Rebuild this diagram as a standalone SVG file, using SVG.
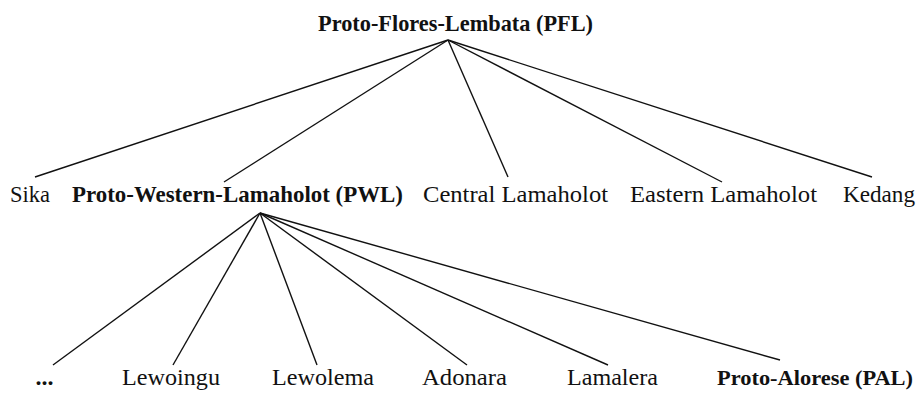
<svg xmlns="http://www.w3.org/2000/svg" width="922" height="394" viewBox="0 0 922 394">
<style>
text{font-family:"Liberation Serif","DejaVu Serif",serif;font-size:24px;fill:#111;text-anchor:middle}
.b{font-weight:bold}
.edge{stroke:#111;stroke-width:1.4;fill:none}
</style>
<rect width="922" height="394" fill="#fff"/>
<g id="connectors">
<line class="edge" x1="448" y1="40" x2="35" y2="177"/>
<line class="edge" x1="448" y1="40" x2="224" y2="182"/>
<line class="edge" x1="448" y1="40" x2="508" y2="177"/>
<line class="edge" x1="448" y1="40" x2="722" y2="182"/>
<line class="edge" x1="448" y1="40" x2="872" y2="177"/>
<line class="edge" x1="260" y1="213" x2="53" y2="365"/>
<line class="edge" x1="260" y1="213" x2="173" y2="365"/>
<line class="edge" x1="260" y1="213" x2="317" y2="365"/>
<line class="edge" x1="260" y1="213" x2="467" y2="365"/>
<line class="edge" x1="260" y1="213" x2="608" y2="365"/>
<line class="edge" x1="260" y1="213" x2="780" y2="360"/>
</g>
<g id="pfl"><text class="b" x="455.5" y="31" textLength="275" lengthAdjust="spacingAndGlyphs">Proto-Flores-Lembata (PFL)</text></g>
<g id="sika"><text x="30" y="202" textLength="40" lengthAdjust="spacingAndGlyphs">Sika</text></g>
<g id="pwl"><text class="b" x="237.5" y="202" textLength="331" lengthAdjust="spacingAndGlyphs">Proto-Western-Lamaholot (PWL)</text></g>
<g id="central"><text x="515.5" y="202" textLength="185" lengthAdjust="spacingAndGlyphs">Central Lamaholot</text></g>
<g id="eastern"><text x="723.5" y="202" textLength="187" lengthAdjust="spacingAndGlyphs">Eastern Lamaholot</text></g>
<g id="kedang"><text x="879" y="202" textLength="72" lengthAdjust="spacingAndGlyphs">Kedang</text></g>
<g id="dots"><text class="b" x="44.5" y="385">...</text></g>
<g id="lewoingu"><text x="171" y="385" textLength="98" lengthAdjust="spacingAndGlyphs">Lewoingu</text></g>
<g id="lewolema"><text x="323" y="385" textLength="102" lengthAdjust="spacingAndGlyphs">Lewolema</text></g>
<g id="adonara"><text x="464.5" y="385" textLength="85" lengthAdjust="spacingAndGlyphs">Adonara</text></g>
<g id="lamalera"><text x="612.5" y="385" textLength="91" lengthAdjust="spacingAndGlyphs">Lamalera</text></g>
<g id="pal"><text class="b" x="815" y="385" style="font-size:22px" textLength="196" lengthAdjust="spacingAndGlyphs">Proto-Alorese (PAL)</text></g>
</svg>
